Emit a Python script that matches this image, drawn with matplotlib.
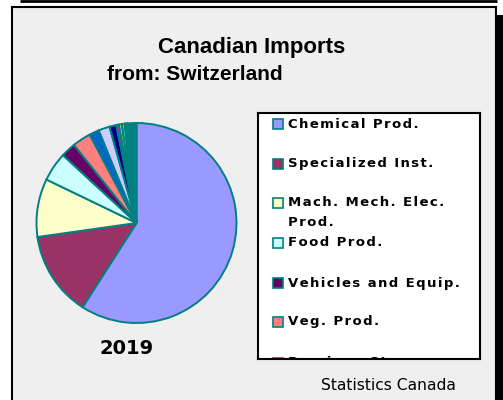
import matplotlib
matplotlib.use('Agg')
from matplotlib import pyplot as plt
from matplotlib.patches import Rectangle

# import shares by product group, percent of total (2019)
categories = ['Chemical Prod.', 'Specialized Inst.', 'Mach. Mech. Elec.\nProd.',
              'Food Prod.', 'Vehicles and Equip.', 'Veg. Prod.',
              'Precious Stones', 'Base Metals', 'Textiles', 'Plastics',
              'Wood Prod.', 'Mineral Prod.', 'Misc. Manuf.', 'Animal Prod.', 'Other']
shares = [59.1, 13.7, 9.4, 4.7, 2.4, 3.0, 1.6, 1.8, 1.1, 0.45, 0.45, 0.45,
          0.2, 0.2, 1.5]
colors = ['#9999FF', '#993366', '#FFFFCC', '#CCFFFF', '#660066', '#FF8080',
          '#0066CC', '#CCCCFF', '#000080', '#FF00FF', '#FFFF00', '#00FFFF',
          '#800080', '#800000', '#008080']
year = '2019'

W, H = 503, 400
fig = plt.figure(figsize=(W / 100, H / 100), dpi=100, facecolor='white')


def spaced(s):
    # widen the tracking a little with hair spaces between letters
    return '\u200a'.join(s)


# background panel, drawn in pixel coordinates
bg = fig.add_axes([0, 0, 1, 1])
bg.set_xlim(0, W)
bg.set_ylim(H, 0)
bg.axis('off')
bg.plot([20, 497], [1, 1], color='black', lw=2, solid_capstyle='butt')
bg.add_patch(Rectangle((12, 7), 484, 400, facecolor='#EFEFEF',
                       edgecolor='black', lw=1.5))
bg.add_patch(Rectangle((497, 15), 8, 400, facecolor='black', edgecolor='none'))

bg.text(252, 47, 'Canadian Imports', ha='center', va='center',
        family='Liberation Sans', weight='bold', fontsize=16)
bg.text(107, 75, 'from: Switzerland', ha='left', va='center',
        family='Liberation Sans', weight='bold', fontsize=15)
bg.text(127, 348, year, ha='center', va='center',
        family='DejaVu Sans', weight='bold', fontsize=14)
bg.text(388, 385, 'Statistics Canada', ha='center', va='center',
        family='DejaVu Sans', fontsize=11.2)

# pie
cx, cy, r = 136.5, 223, 100
pad = 1.03
ax = fig.add_axes([(cx - r * pad) / W, 1 - (cy + r * pad) / H,
                   2 * r * pad / W, 2 * r * pad / H])
ax.pie(shares, colors=colors, startangle=90, counterclock=False,
       wedgeprops=dict(edgecolor='#008080', linewidth=1.4))
ax.set_xlim(-pad, pad)
ax.set_ylim(-pad, pad)

# legend box (content overflows and is clipped at the bottom)
lx0, ly0, lx1, ly1 = 258, 113, 480, 359
lg = fig.add_axes([lx0 / W, 1 - ly1 / H, (lx1 - lx0) / W, (ly1 - ly0) / H])
lg.set_facecolor('white')
lg.set_xlim(0, lx1 - lx0)
lg.set_ylim(ly1 - ly0, 0)
lg.set_xticks([])
lg.set_yticks([])
for s in lg.spines.values():
    s.set_color('black')
    s.set_linewidth(1.5)

row_y = [11, 50.5, 90, 130, 170, 209, 250]
for i, y in enumerate(row_y):
    lg.add_patch(Rectangle((15, y - 5), 10, 10, facecolor=colors[i],
                           edgecolor='#008080', lw=1.2))
    lines = categories[i].split('\n')
    for k, line in enumerate(lines):
        lg.text(30, y + k * 20, spaced(line), ha='left', va='center',
                family='DejaVu Sans', weight='bold', fontsize=9.5,
                clip_on=True)

fig.savefig('out.png', dpi=100)
